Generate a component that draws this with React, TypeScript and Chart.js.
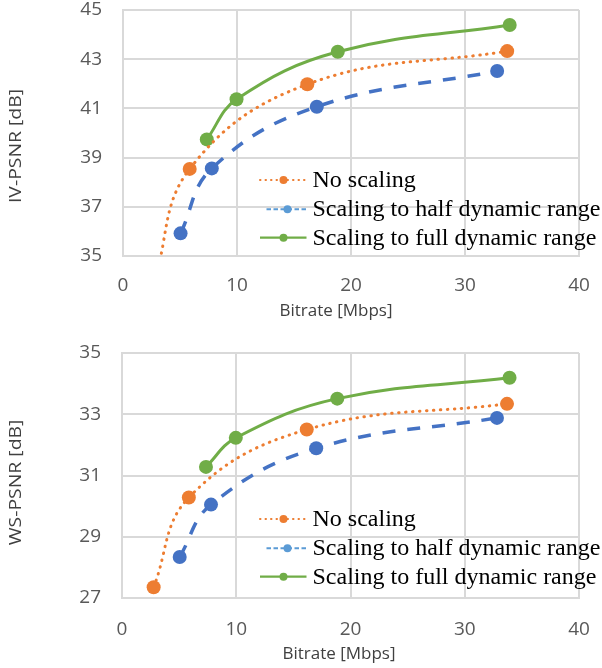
import React, { useEffect, useRef } from 'react';
import { Chart, registerables } from 'chart.js';

Chart.register(...registerables);

// ---------- data ----------
const seriesNames = ['No scaling', 'Scaling to half dynamic range', 'Scaling to full dynamic range'];

const xTicks = [0, 10, 20, 30, 40];
const ivTicks = [35, 37, 39, 41, 43, 45];
const wsTicks = [27, 29, 31, 33, 35];

const noScalingRate = [2.77, 5.85, 16.17, 33.7];
const halfRangeRate = [5.05, 7.79, 17.0, 32.82];
const fullRangeRate = [7.35, 9.96, 18.84, 33.92];

const ivNoScaling = [34.0, 38.54, 41.98, 43.33];
const ivHalfRange = [35.92, 38.56, 41.07, 42.52];
const ivFullRange = [39.74, 41.37, 43.3, 44.39];

const wsNoScaling = [27.35, 30.28, 32.5, 33.34];
const wsHalfRange = [28.34, 30.05, 31.89, 32.88];
const wsFullRange = [31.28, 32.23, 33.51, 34.19];

// ---------- styles ----------
const ORANGE = '#ED7D31';
const BLUE = '#4472C4';
const GREEN = '#70AD47';
const LEGEND_BLUE = '#5B9BD5';
const GRID = '#D9D9D9';
const TICK_COLOR = '#595959';
const TITLE_COLOR = '#404040';

const pts = (xs: number[], ys: number[]) => xs.map((x, i) => ({ x, y: ys[i] }));

function makeDatasets(no: number[], half: number[], full: number[]) {
  const common = {
    pointBorderWidth: 0,
    pointRadius: 7,
    pointHoverRadius: 7,
    tension: 0.4,
    fill: false,
  };
  return [
    {
      ...common,
      label: seriesNames[0],
      data: pts(noScalingRate, no),
      borderColor: ORANGE,
      backgroundColor: ORANGE,
      pointBackgroundColor: ORANGE,
      borderWidth: 3,
      borderDash: [0.5, 6.5],
      borderCapStyle: 'round',
    },
    {
      ...common,
      label: seriesNames[1],
      data: pts(halfRangeRate, half),
      borderColor: BLUE,
      backgroundColor: BLUE,
      pointBackgroundColor: BLUE,
      borderWidth: 3.5,
      borderDash: [13, 12],
      borderCapStyle: 'butt',
    },
    {
      ...common,
      label: seriesNames[2],
      data: pts(fullRangeRate, full),
      borderColor: GREEN,
      backgroundColor: GREEN,
      pointBackgroundColor: GREEN,
      borderWidth: 3,
    },
  ];
}

// legend drawn in Excel style: line sample with marker in the middle
const legendSymbols = [
  { color: ORANGE, x1: 260, x2: 306, mx: 283.5, width: 2, dash: [0.5, 5], cap: 'round' },
  { color: LEGEND_BLUE, x1: 266.5, x2: 307, mx: 287.5, width: 2, dash: [4.5, 2.5], cap: 'butt' },
  { color: GREEN, x1: 260, x2: 306.5, mx: 283.5, width: 2.2, dash: [], cap: 'butt' },
];

const excelLegend = {
  id: 'excelLegend',
  afterDatasetsDraw(chart: any, _args: any, opts: any) {
    const ctx = chart.ctx as CanvasRenderingContext2D;
    const ys: number[] = opts.ys;
    ctx.save();
    seriesNames.forEach((name, i) => {
      const s = legendSymbols[i];
      const y = ys[i];
      ctx.beginPath();
      ctx.strokeStyle = s.color;
      ctx.lineWidth = s.width;
      ctx.lineCap = s.cap as CanvasLineCap;
      ctx.setLineDash(s.dash);
      ctx.moveTo(s.x1, y);
      ctx.lineTo(s.x2, y);
      ctx.stroke();
      ctx.setLineDash([]);
      ctx.beginPath();
      ctx.fillStyle = s.color;
      ctx.arc(s.mx, y, 4, 0, Math.PI * 2);
      ctx.fill();
      ctx.fillStyle = '#000';
      ctx.font = '24px "Liberation Serif", "Times New Roman", serif';
      ctx.textAlign = 'left';
      ctx.textBaseline = 'alphabetic';
      ctx.fillText(name, 312.5, y + 7);
    });
    ctx.restore();
  },
};

// axis titles placed where the reference has them
const axisTitles = {
  id: 'axisTitles',
  afterDraw(chart: any, _args: any, opts: any) {
    const ctx = chart.ctx as CanvasRenderingContext2D;
    ctx.save();
    ctx.fillStyle = TITLE_COLOR;
    ctx.font = '17px "Open Sans"';
    ctx.textAlign = 'center';
    ctx.textBaseline = 'middle';
    ctx.fillText(opts.xText, opts.xTitleX, opts.xTitleY);
    ctx.translate(opts.yTitleX, opts.yTitleY);
    ctx.rotate(-Math.PI / 2);
    ctx.scale(1.14, 1);
    ctx.fillText(opts.yText, 0, 0);
    ctx.restore();
  },
};

interface ChartSpec {
  yTitle: string;
  yTicks: number[];
  datasets: any[];
  padTop: number;
  yAxisWidth: number;
  xAxisHeight: number;
  xTickPad: number;
  legendYs: number[];
  yTitleY: number;
  xTitleX: number;
  xTitleY: number;
}

function makeConfig(spec: ChartSpec): any {
  return {
    type: 'line',
    data: { datasets: spec.datasets },
    options: {
      responsive: false,
      animation: false,
      events: [],
      layout: { padding: { top: spec.padTop, right: 23, left: 0, bottom: 0 } },
      plugins: {
        legend: { display: false },
        tooltip: { enabled: false },
        excelLegend: { ys: spec.legendYs },
        axisTitles: {
          xText: 'Bitrate [Mbps]',
          xTitleX: spec.xTitleX,
          xTitleY: spec.xTitleY,
          yText: spec.yTitle,
          yTitleX: 16,
          yTitleY: spec.yTitleY,
        },
      },
      scales: {
        x: {
          type: 'linear',
          min: xTicks[0],
          max: xTicks[xTicks.length - 1],
          afterBuildTicks: (s: any) => {
            s.ticks = xTicks.map((v) => ({ value: v }));
          },
          afterFit: (s: any) => {
            s.height = spec.xAxisHeight;
            s.paddingLeft = 0;
            s.paddingRight = 0;
          },
          grid: { color: GRID, lineWidth: 2, drawTicks: false },
          border: { display: true, color: GRID, width: 2 },
          ticks: {
            color: TICK_COLOR,
            font: { family: 'Open Sans', size: 19 },
            padding: spec.xTickPad,
            maxRotation: 0,
            autoSkip: false,
          },
          title: { display: false },
        },
        y: {
          type: 'linear',
          min: spec.yTicks[0],
          max: spec.yTicks[spec.yTicks.length - 1],
          afterBuildTicks: (s: any) => {
            s.ticks = spec.yTicks.map((v) => ({ value: v }));
          },
          afterFit: (s: any) => {
            s.width = spec.yAxisWidth;
            s.paddingTop = 0;
            s.paddingBottom = 0;
          },
          grid: { color: GRID, lineWidth: 2, drawTicks: false },
          border: { display: true, color: GRID, width: 2 },
          ticks: {
            color: TICK_COLOR,
            font: { family: 'Open Sans', size: 19 },
            padding: 21,
          },
          title: { display: false },
        },
      },
    },
    plugins: [excelLegend, axisTitles],
  };
}

export default function App() {
  const topRef = useRef<HTMLCanvasElement>(null);
  const botRef = useRef<HTMLCanvasElement>(null);

  useEffect(() => {
    const top = new Chart(
      topRef.current as HTMLCanvasElement,
      makeConfig({
        yTitle: 'IV-PSNR [dB]',
        yTicks: ivTicks,
        datasets: makeDatasets(ivNoScaling, ivHalfRange, ivFullRange),
        padTop: 10,
        yAxisWidth: 123,
        xAxisHeight: 69,
        xTickPad: 18,
        legendYs: [180, 209.3, 237.7],
        yTitleY: 146,
        xTitleX: 336,
        xTitleY: 311,
      })
    );
    const bot = new Chart(
      botRef.current as HTMLCanvasElement,
      makeConfig({
        yTitle: 'WS-PSNR [dB]',
        yTicks: wsTicks,
        datasets: makeDatasets(wsNoScaling, wsHalfRange, wsFullRange),
        padTop: 23,
        yAxisWidth: 122,
        xAxisHeight: 70,
        xTickPad: 20,
        legendYs: [189, 218.3, 246.7],
        yTitleY: 152.5,
        xTitleX: 339,
        xTitleY: 324,
      })
    );
    return () => {
      top.destroy();
      bot.destroy();
    };
  }, []);

  return (
    <div style={{ position: 'absolute', left: 0, top: 0, width: 602, height: 668, background: '#fff' }}>
      <canvas ref={topRef} width={602} height={325} style={{ position: 'absolute', left: 0, top: 0 }} />
      <canvas ref={botRef} width={602} height={338} style={{ position: 'absolute', left: 0, top: 330 }} />
    </div>
  );
}
